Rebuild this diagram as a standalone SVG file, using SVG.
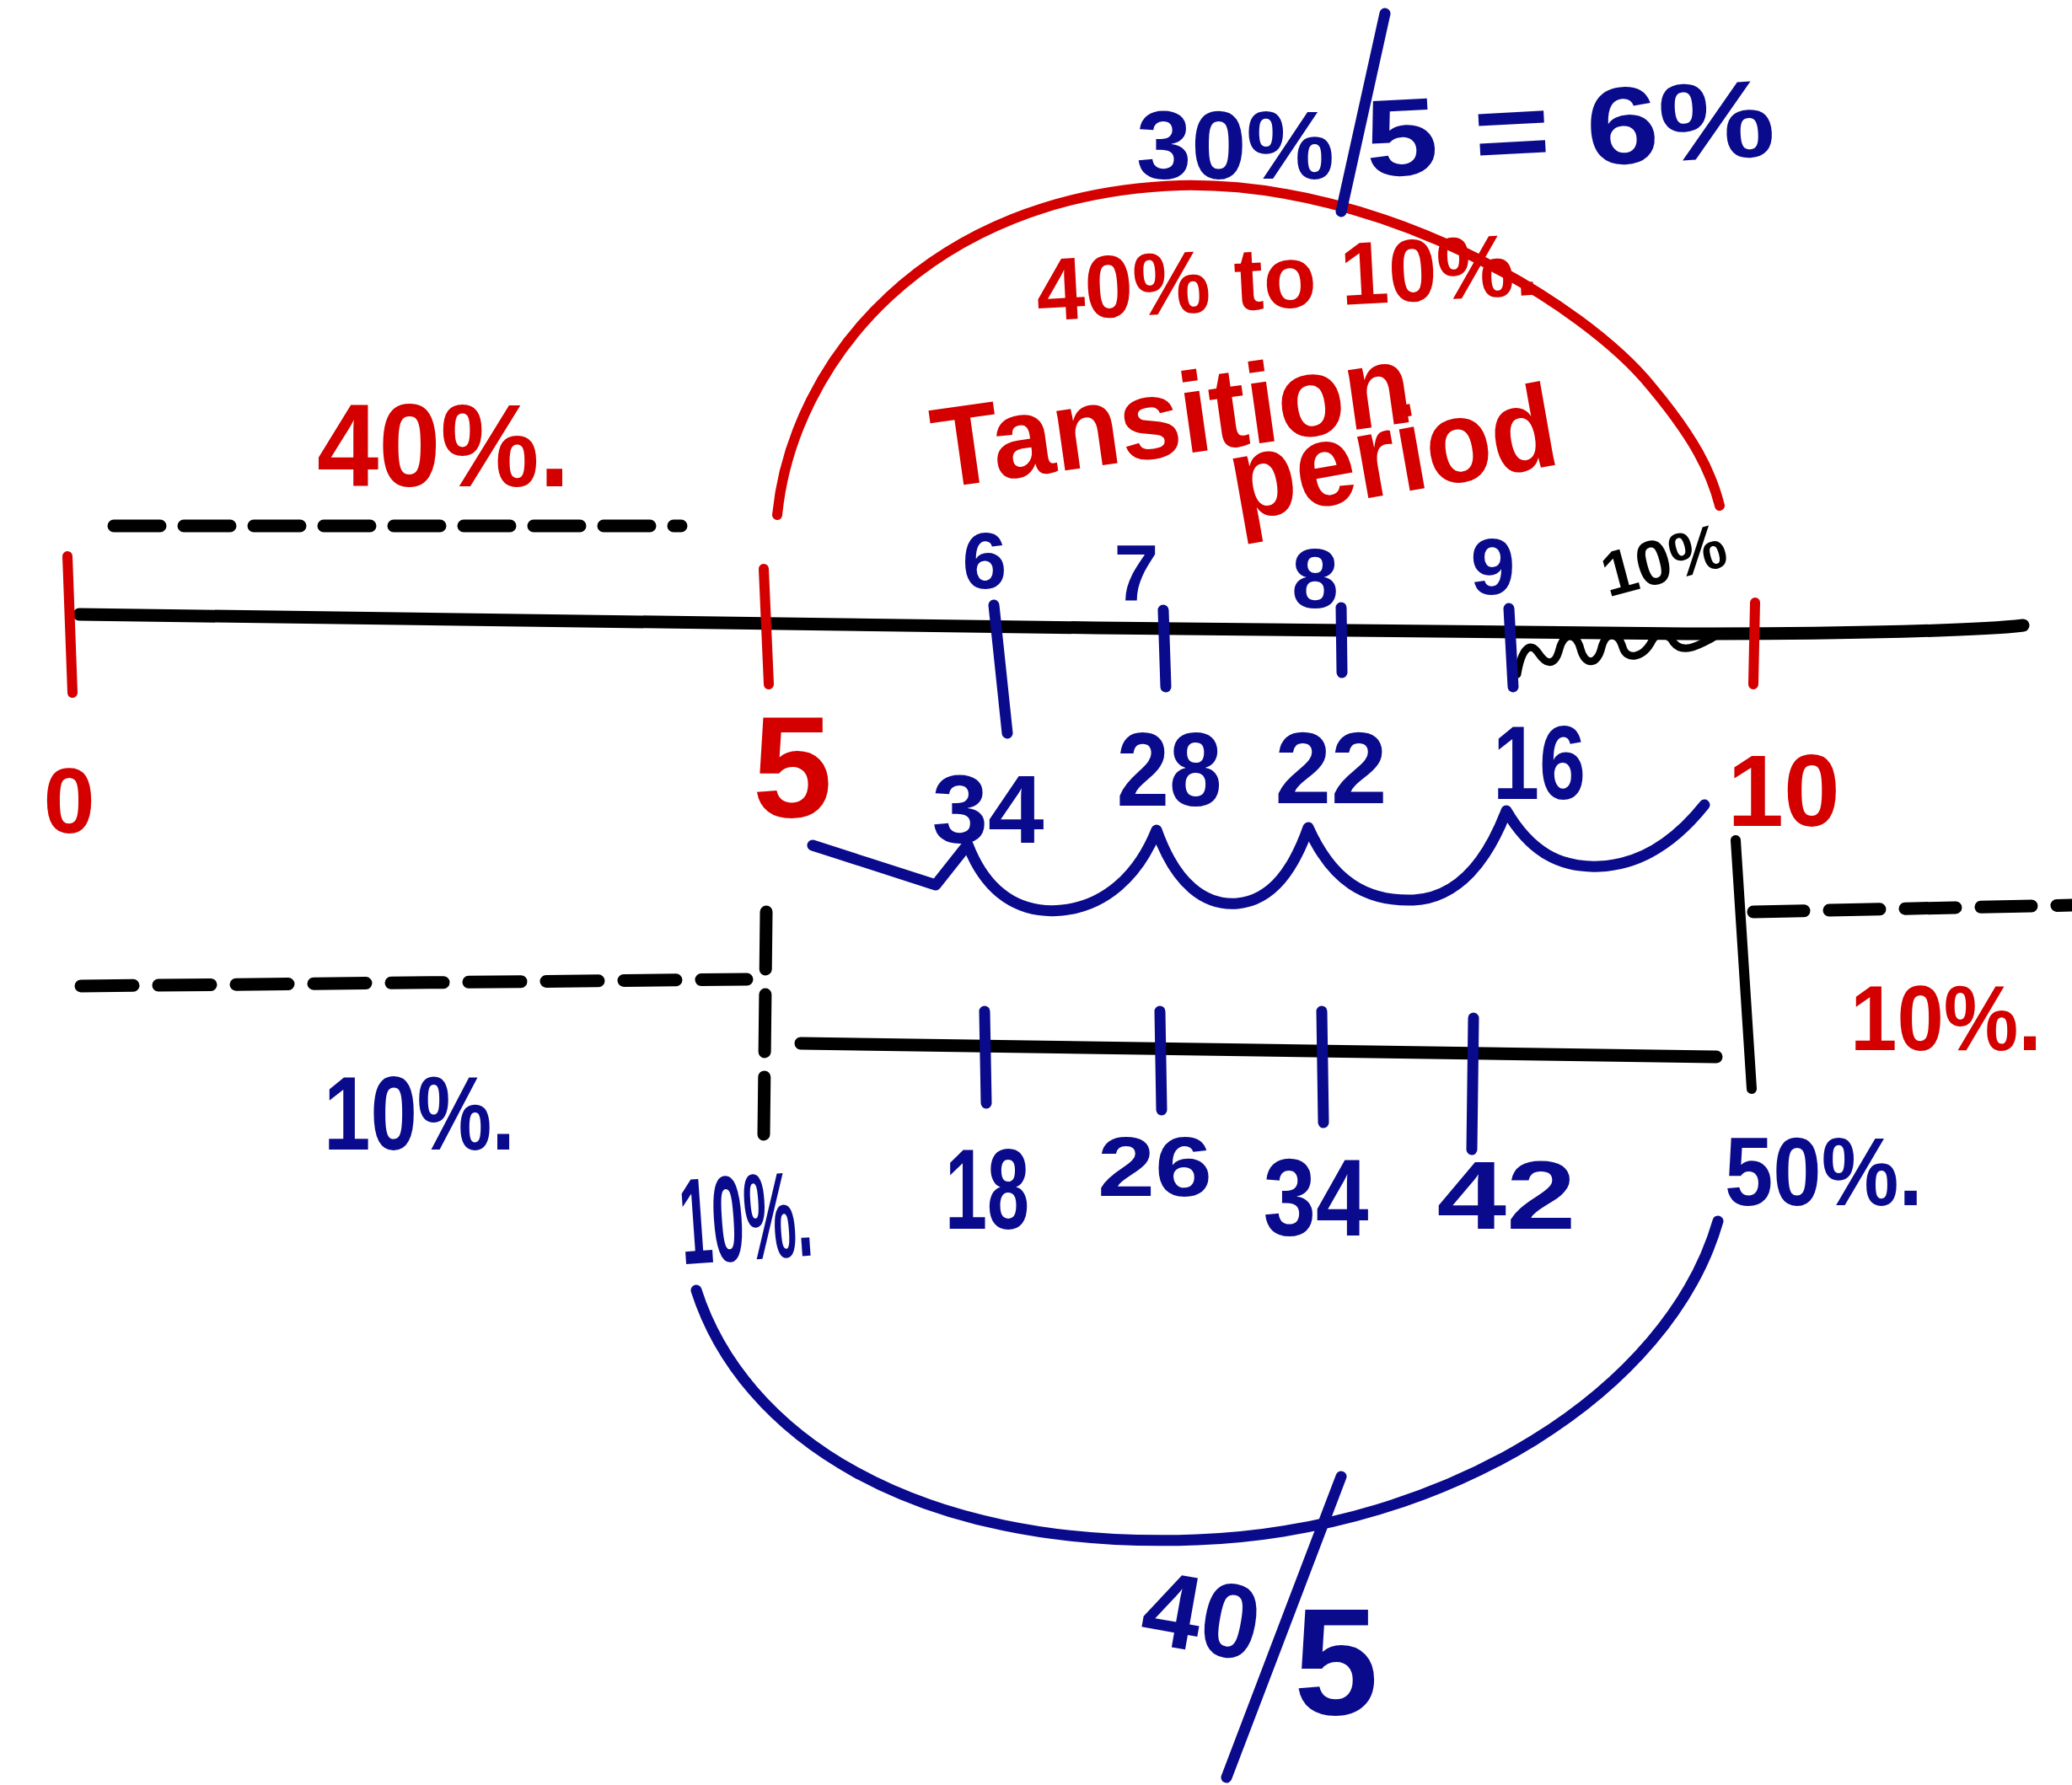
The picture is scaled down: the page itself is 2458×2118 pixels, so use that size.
<svg xmlns="http://www.w3.org/2000/svg" width="2458" height="2118" viewBox="0 0 2458 2118">
<style>
.bk{stroke:#000;fill:none;stroke-linecap:round;stroke-linejoin:round}
.rd{stroke:#d40000;fill:none;stroke-linecap:round;stroke-linejoin:round;stroke-width:12}
.bl{stroke:#0a0a8c;fill:none;stroke-linecap:round;stroke-linejoin:round;stroke-width:13}
.dash{stroke:#000;fill:none;stroke-width:15;stroke-linecap:round}
text{font-family:"Liberation Sans",Arial,sans-serif;font-weight:bold}
.tr{fill:#d40000}
.tb{fill:#0a0a8c}
.tk{fill:#000}
</style>
<rect width="2458" height="2118" fill="#fff"/>

<!-- main timeline -->
<path class="bk" stroke-width="15" d="M94,729 L1300,745 L2000,752 C2200,752 2350,748 2400,742"/>
<!-- squiggle -->
<path class="bk" stroke-width="9" d="M1800,800 C1805,770 1815,760 1825,775 C1835,790 1845,790 1850,770 C1855,750 1870,750 1875,770 C1880,790 1895,790 1900,768 C1905,748 1920,750 1925,768 C1930,785 1950,780 1960,760 C1965,750 1980,752 1985,762 C1995,775 2010,770 2040,752"/>

<!-- red ticks -->
<path class="rd" d="M80,660 L86,822"/>
<path class="rd" stroke-width="15" d="M906,675 L912,812"/>
<path class="rd" d="M2082,715 L2080,812"/>

<!-- dashed lines -->
<path class="dash" stroke-dasharray="55 28" d="M135,624 L808,624"/>
<path class="dash" stroke-dasharray="62 30" d="M96,1170 L886,1162"/>
<path class="dash" stroke-width="10" stroke-dasharray="68 30" d="M909,1082 L906,1348"/>
<path class="dash" stroke-dasharray="60 30" d="M2080,1082 L2458,1074"/>

<!-- second black line and right vertical -->
<path class="bk" stroke-width="15" d="M950,1238 L2036,1254"/>
<path class="bk" stroke-width="12" d="M2059,997 L2078,1292"/>

<!-- red arc -->
<path class="rd" d="M922,611 C940,430 1100,230 1400,220 C1640,215 1880,360 1960,460 C2010,520 2030,560 2040,600"/>

<!-- blue top slash -->
<path class="bl" d="M1643,16 L1591,251"/>

<!-- blue ticks on main line -->
<path class="bl" d="M1179,718 L1195,870"/>
<path class="bl" d="M1380,724 L1383,815"/>
<path class="bl" d="M1591,721 L1592,798"/>
<path class="bl" d="M1790,722 L1795,815"/>

<!-- scalloped brace -->
<path class="bl" d="M964,1003 L1110,1050 L1148,1002 C1170,1060 1210,1085 1260,1080 C1310,1075 1350,1040 1372,985 C1395,1050 1430,1075 1468,1072 C1510,1068 1535,1030 1552,982 C1580,1045 1620,1070 1677,1068 C1730,1065 1765,1020 1787,962 C1815,1010 1850,1030 1897,1028 C1950,1026 1990,995 2022,955"/>

<!-- blue ticks on second line -->
<path class="bl" d="M1168,1200 L1170,1309"/>
<path class="bl" d="M1376,1200 L1378,1317"/>
<path class="bl" d="M1568,1200 L1570,1332"/>
<path class="bl" d="M1748,1208 L1746,1364"/>

<!-- bottom blue arc and slash -->
<path class="bl" stroke-width="14" d="M826,1531 C880,1700 1080,1840 1420,1827 C1720,1815 1980,1650 2038,1449"/>
<path class="bl" d="M1591,1752 L1455,2109"/>

<!-- red texts -->
<text class="tr" x="376" y="577" font-size="140" textLength="300" lengthAdjust="spacingAndGlyphs">40%.</text>
<text class="tr" x="82" y="988" font-size="110" text-anchor="middle">0</text>
<text class="tr" x="940" y="969" font-size="170" text-anchor="middle">5</text>
<text class="tr" x="2116" y="980" font-size="120" text-anchor="middle">10</text>
<text class="tr" x="1230" y="365" font-size="105" textLength="596" lengthAdjust="spacingAndGlyphs" transform="rotate(-3 1530 350)">40% to 10%.</text>
<text class="tr" x="1392" y="540" font-size="135" text-anchor="middle" textLength="572" lengthAdjust="spacingAndGlyphs" transform="rotate(-8 1392 510)">Tansition</text>
<text class="tr" x="1654" y="585" font-size="140" text-anchor="middle" textLength="392" lengthAdjust="spacingAndGlyphs" transform="rotate(-10 1654 550)">period</text>
<text class="tr" x="2195" y="1246" font-size="110" textLength="227" lengthAdjust="spacingAndGlyphs">10%.</text>

<!-- blue top formula -->
<text class="tb" x="1348" y="212" font-size="115" textLength="235" lengthAdjust="spacingAndGlyphs">30%</text>
<text class="tb" x="1622" y="210" font-size="130" textLength="486" lengthAdjust="spacingAndGlyphs" transform="rotate(-3 1622 210)">5 = 6%</text>

<!-- blue numbers above line -->
<text class="tb" x="1168" y="698" font-size="95" text-anchor="middle">6</text>
<text class="tb" x="1348" y="713" font-size="95" text-anchor="middle">7</text>
<text class="tb" x="1560" y="721" font-size="100" text-anchor="middle">8</text>
<text class="tb" x="1771" y="705" font-size="95" text-anchor="middle">9</text>

<!-- black small 10% -->
<text class="tk" x="1975" y="690" font-size="75" text-anchor="middle" transform="rotate(-15 1975 670)">10%</text>

<!-- blue numbers below main line -->
<text class="tb" x="1172" y="1000" font-size="115" text-anchor="middle" textLength="133" lengthAdjust="spacingAndGlyphs">34</text>
<text class="tb" x="1387" y="956" font-size="125" text-anchor="middle" textLength="125" lengthAdjust="spacingAndGlyphs">28</text>
<text class="tb" x="1579" y="953" font-size="120" text-anchor="middle" textLength="133" lengthAdjust="spacingAndGlyphs">22</text>
<text class="tb" x="1826" y="948" font-size="125" text-anchor="middle" textLength="110" lengthAdjust="spacingAndGlyphs">16</text>

<!-- blue lower labels -->
<text class="tb" x="384" y="1364" font-size="125" textLength="227" lengthAdjust="spacingAndGlyphs">10%.</text>
<text class="tb" x="807" y="1495" font-size="145" textLength="157" lengthAdjust="spacingAndGlyphs" transform="rotate(-4 885 1460)">10%.</text>
<text class="tb" x="1171" y="1458" font-size="135" text-anchor="middle" textLength="100" lengthAdjust="spacingAndGlyphs">18</text>
<text class="tb" x="1370" y="1419" font-size="100" text-anchor="middle" textLength="136" lengthAdjust="spacingAndGlyphs">26</text>
<text class="tb" x="1561" y="1466" font-size="130" text-anchor="middle" textLength="125" lengthAdjust="spacingAndGlyphs">34</text>
<text class="tb" x="1787" y="1458" font-size="115" text-anchor="middle" textLength="165" lengthAdjust="spacingAndGlyphs">42</text>
<text class="tb" x="2046" y="1430" font-size="115" textLength="235" lengthAdjust="spacingAndGlyphs">50%.</text>

<!-- bottom formula -->
<text class="tb" x="1425" y="1960" font-size="125" text-anchor="middle" transform="rotate(10 1425 1920)">40</text>
<text class="tb" x="1585" y="2034" font-size="180" text-anchor="middle">5</text>
</svg>
